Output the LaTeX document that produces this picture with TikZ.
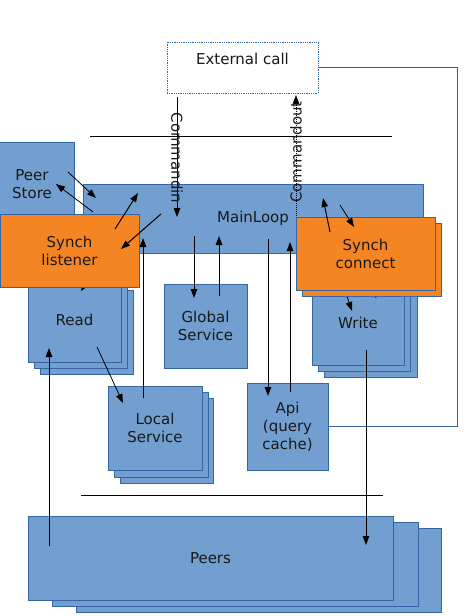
\documentclass[tikz,border=0pt]{standalone}
\usepackage{fontspec}
\setmainfont{DejaVu Sans}
\usetikzlibrary{arrows.meta}
\definecolor{bfill}{HTML}{729FCF}
\definecolor{bline}{HTML}{3465A4}
\definecolor{ofill}{HTML}{F58423}
\begin{document}
\begin{tikzpicture}[x=1pt,y=-1pt,
  font=\fontsize{15}{18}\selectfont,
  box/.style={draw=bline, fill=bfill, line width=0.9pt, inner sep=0pt, align=center, text=black!90},
  obox/.style={box, fill=ofill},
  extbox/.style={draw=bline, densely dotted, fill=white, line width=0.8pt, inner sep=0pt, align=center, text=black!90},
  arr/.style={draw=black, line width=1pt, -{Triangle[length=9pt,width=6.5pt]}},
  thinarr/.style={arr, line width=0.8pt},
  sepline/.style={draw=black, line width=1pt},
  loopline/.style={draw=bline, line width=0.9pt},
  lbl/.style={inner sep=0pt, text=black!90}]
\useasboundingbox (0,0) rectangle (476,616);

% external call box and loop
\node[extbox, minimum width=151pt, minimum height=51pt] (ext) at (242.5,67.5) {};
\node[lbl] (extlbl) at (242.5,58.5) {External call};
\coordinate (loopc) at (457,300);
\draw[loopline] (ext.east) -| (loopc);

% separator lines
\coordinate (sepA1) at (90,136);
\coordinate (sepA2) at (392,136);
\draw[sepline] (sepA1) -- (sepA2);
\coordinate (sepB1) at (81,495);
\coordinate (sepB2) at (383,495);
\draw[sepline] (sepB1) -- (sepB2);

% boxes
\node[box, minimum width=84pt, minimum height=84pt] (peerstore) at (32,184) {Peer\\Store};
\node[box, minimum width=340pt, minimum height=69pt] (mainloop) at (253,218.5) {MainLoop};

\node[box, minimum width=365pt, minimum height=84pt] (peers3) at (258.5,570) {};
\node[box, minimum width=366pt, minimum height=84pt] (peers2) at (235,564) {};
\node[box, minimum width=365pt, minimum height=84pt] (peers) at (210.5,558) {Peers};

\node[box, minimum width=93pt, minimum height=84pt] (read3) at (86.5,332) {};
\node[box, minimum width=93pt, minimum height=84pt] (read2) at (80.5,326) {};
\node[box, minimum width=93pt, minimum height=84pt] (read) at (74.5,320) {Read};

\node[box, minimum width=93pt, minimum height=84pt] (write3) at (370.5,335) {};
\node[box, minimum width=92pt, minimum height=84pt] (write2) at (364,329) {};
\node[box, minimum width=92pt, minimum height=84pt] (write) at (358,323) {Write};

\node[box, minimum width=93pt, minimum height=85pt] (local3) at (166.5,440.5) {};
\node[box, minimum width=94pt, minimum height=85pt] (local2) at (161,434.5) {};
\node[box, minimum width=94pt, minimum height=84pt] (local) at (155,428) {Local\\Service};

\node[box, minimum width=83pt, minimum height=84pt] (global) at (205.5,326) {Global\\Service};
\node[box, minimum width=81pt, minimum height=87pt] (api) at (287.5,426.5) {Api\\(query\\cache)};

\draw[loopline] (loopc) |- (api.east);

% arrows partly hidden behind the orange boxes
\coordinate (slrA) at (95,270);
\coordinate (slrB) at (81,291);
\draw[thinarr] (slrA) -- (slrB);
\coordinate (tkA) at (62,288);
\coordinate (tkB) at (60,275);
\draw[thinarr, -] (tkA) -- (tkB);
\coordinate (scwA) at (343,285);
\coordinate (scwB) at (352,311);
\draw[thinarr] (scwA) -- (scwB);
\coordinate (tk2A) at (376,298);
\coordinate (tk2B) at (372,285);
\draw[thinarr, -] (tk2A) -- (tk2B);
\coordinate (coutA) at (296,232);
\coordinate (coutB) at (296,95);
\draw[arr, densely dotted] (coutA) -- (coutB);
\node[lbl, rotate=90] (coutlbl) at (296,152) {Commandout};

% orange boxes
\node[obox, minimum width=139pt, minimum height=73pt] (synchl) at (69.5,250.5) {Synch\\listener};
\node[obox, minimum width=139pt, minimum height=73pt] (synchc2) at (371.5,259.5) {};
\node[obox, minimum width=139pt, minimum height=73pt] (synchc) at (365.5,253.5) {Synch\\connect};

% command in
\coordinate (cinA) at (177,97);
\coordinate (cinB) at (177,217);
\draw[arr] (cinA) -- (cinB);
\node[lbl, rotate=-90] (cinlbl) at (177,158) {Commandin};

% peer store <-> mainloop
\coordinate (ps1A) at (68,172); \coordinate (ps1B) at (96,198);
\draw[thinarr] (ps1A) -- (ps1B);
\coordinate (ps2A) at (93,212); \coordinate (ps2B) at (56,184);
\draw[thinarr] (ps2A) -- (ps2B);

% synch listener <-> mainloop
\coordinate (sl1A) at (115,229); \coordinate (sl1B) at (138,193);
\draw[arr] (sl1A) -- (sl1B);
\coordinate (sl2A) at (161,214); \coordinate (sl2B) at (121,249);
\draw[arr] (sl2A) -- (sl2B);

% local -> mainloop, read -> local
\coordinate (lmA) at (143,398); \coordinate (lmB) at (143,238);
\draw[arr] (lmA) -- (lmB);
\coordinate (rlA) at (97,347); \coordinate (rlB) at (123,403);
\draw[thinarr] (rlA) -- (rlB);

% peers -> read, write -> peers
\coordinate (prA) at (49,546); \coordinate (prB) at (49,348);
\draw[arr] (prA) -- (prB);
\coordinate (wpA) at (366,350); \coordinate (wpB) at (366,545);
\draw[arr] (wpA) -- (wpB);

% mainloop <-> global
\coordinate (mgA) at (194,236); \coordinate (mgB) at (194,298);
\draw[arr] (mgA) -- (mgB);
\coordinate (gmA) at (219,296); \coordinate (gmB) at (219,236);
\draw[arr] (gmA) -- (gmB);

% mainloop <-> api
\coordinate (maA) at (268,239); \coordinate (maB) at (268,396);
\draw[arr] (maA) -- (maB);
\coordinate (amA) at (290,392); \coordinate (amB) at (290,242);
\draw[arr] (amA) -- (amB);

% synch connect <-> mainloop
\coordinate (sc1A) at (330,232); \coordinate (sc1B) at (323,198);
\draw[arr] (sc1A) -- (sc1B);
\coordinate (sc2A) at (340,205); \coordinate (sc2B) at (354,227);
\draw[thinarr] (sc2A) -- (sc2B);
\end{tikzpicture}
\end{document}
